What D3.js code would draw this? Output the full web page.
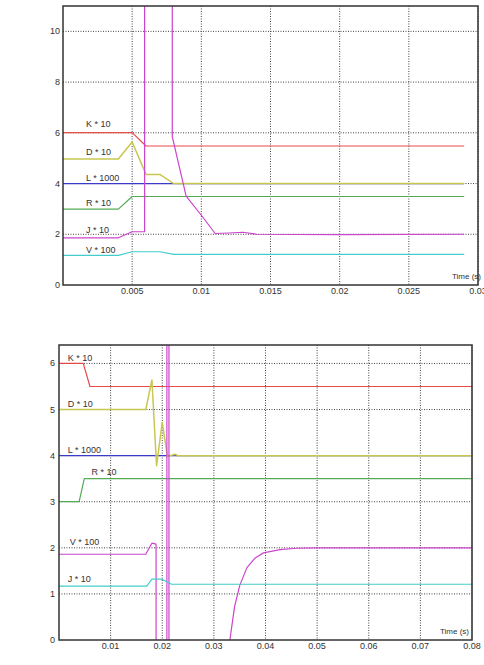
<!DOCTYPE html>
<html><head><meta charset="utf-8">
<script src="https://cdn.jsdelivr.net/npm/d3@7"></script>
<style>
html,body{margin:0;padding:0;background:#fff;}
svg{display:block;font-family:"Liberation Sans",Arial,sans-serif;}
</style></head>
<body><svg id="c" width="484" height="665"></svg>
<script>
// ---- Top chart data (time s, value) ----
const topXTicks = [0.005, 0.01, 0.015, 0.02, 0.025, 0.03];
const topXTickLabels = ["0.005", "0.01", "0.015", "0.02", "0.025", "0.03"];
const topYTicks = [0, 2, 4, 6, 8, 10];
const topK = [[0,6.01],[0.005,6.01],[0.006,5.48],[0.029,5.48]];
const topL = [[0,4],[0.029,4]];
const topD = [[0,4.97],[0.004,4.97],[0.005,5.64],[0.006,4.36],[0.007,4.36],[0.008,4.0],[0.029,4.0]];
const topR = [[0,2.99],[0.004,2.99],[0.005,3.49],[0.029,3.49]];
const topJ = [[0,1.86],[0.004,1.86],[0.005,2.1],[0.0059,2.1],[0.0059,40],[0.0079,40],[0.0079,5.85],[0.0089,3.5],[0.01,2.75],[0.011,2.03],[0.012,2.05],[0.013,2.08],[0.014,2.0],[0.02,1.99],[0.029,2.0]];
const topV = [[0,1.17],[0.004,1.17],[0.005,1.31],[0.007,1.31],[0.008,1.21],[0.029,1.21]];
const topLabels = ["K * 10","D * 10","L * 1000","R * 10","J * 10","V * 100"];
const topLabelT = [0.00167,0.00167,0.00167,0.00167,0.00167,0.00167];
const topLabelV = [6.34,5.24,4.21,3.23,2.17,1.38];

// ---- Bottom chart data ----
const botXTicks = [0.01,0.02,0.03,0.04,0.05,0.06,0.07,0.08];
const botXTickLabels = ["0.01","0.02","0.03","0.04","0.05","0.06","0.07","0.08"];
const botYTicks = [0,1,2,3,4,5,6];
const botK = [[0,6],[0.0047,6],[0.006,5.5],[0.08,5.5]];
const botL = [[0,4],[0.08,4]];
const botD = [[0,5],[0.0168,5],[0.018,5.64],[0.0189,3.78],[0.020,4.72],[0.021,3.98],[0.0225,4.03],[0.023,4.0],[0.08,4.0]];
const botR = [[0,3],[0.0039,3],[0.0049,3.5],[0.08,3.5]];
const botM = [[0,1.86],[0.0168,1.86],[0.018,2.1],[0.0188,2.08],[0.0189,-30],[0.0209,-30],[0.0209,30],[0.0213,30],[0.0213,-30],[0.0326,-30],[0.0331,0],[0.034,0.72],[0.035,1.18],[0.0364,1.57],[0.038,1.78],[0.0396,1.89],[0.0428,1.96],[0.046,1.99],[0.05,2.0],[0.08,2.0]];
const botC = [[0,1.17],[0.017,1.17],[0.018,1.32],[0.0199,1.32],[0.0218,1.21],[0.08,1.21]];
const botLabels = ["K * 10","D * 10","L * 1000","R * 10","V * 100","J * 10"];
const botLabelT = [0.0017,0.0017,0.0017,0.0063,0.0021,0.0017];
const botLabelV = [6.12,5.13,4.13,3.65,2.12,1.33];

const colors = {K:"#e84a4a", L:"#3a3acc", D:"#c8c850", R:"#55aa55", M:"#cc44cc", C:"#44cccc"};

const svg = d3.select("#c");

function chart(opt){
  const g = svg.append("g");
  const x = d3.scaleLinear().domain(opt.xDomain).range([opt.left, opt.right]);
  const y = d3.scaleLinear().domain(opt.yDomain).range([opt.bottom, opt.top]);
  const id = "clip" + opt.name;
  svg.append("clipPath").attr("id", id).append("rect")
    .attr("x", opt.left).attr("y", opt.top)
    .attr("width", opt.right - opt.left).attr("height", opt.bottom - opt.top);
  // grid
  g.selectAll(".gx").data(opt.xTicks).join("line")
    .attr("x1", d => x(d)).attr("x2", d => x(d))
    .attr("y1", opt.top).attr("y2", opt.bottom)
    .attr("stroke", "#444").attr("stroke-width", 1).attr("stroke-dasharray", "1,1.5");
  g.selectAll(".gy").data(opt.yTicks.filter(v => v > opt.yDomain[0])).join("line")
    .attr("x1", opt.left).attr("x2", opt.right)
    .attr("y1", d => y(d)).attr("y2", d => y(d))
    .attr("stroke", "#444").attr("stroke-width", 1).attr("stroke-dasharray", "1,1.5");
  // tick labels
  g.selectAll(".xl").data(opt.xTicks).join("text")
    .attr("x", d => x(d)).attr("y", opt.bottom + 9)
    .attr("text-anchor", "middle").attr("font-size", 9).attr("fill", "#333")
    .text((d, i) => opt.xTickLabels[i]);
  g.selectAll(".yl").data(opt.yTicks).join("text")
    .attr("x", opt.left - opt.yLabelGap).attr("y", d => y(d) + 3)
    .attr("text-anchor", "end").attr("font-size", 9).attr("fill", "#333")
    .text(d => d);
  // lines
  const line = d3.line().x(d => x(d[0])).y(d => y(d[1]));
  const lg = g.append("g").attr("clip-path", `url(#${id})`);
  opt.series.forEach(s => {
    lg.append("path").datum(s.data).attr("d", line)
      .attr("fill", "none").attr("stroke", s.color).attr("stroke-width", s.w || 1.2)
      .attr("stroke-linejoin", "round");
  });
  // labels
  g.selectAll(".sl").data(opt.labels).join("text")
    .attr("x", (d, i) => x(opt.labelT[i])).attr("y", (d, i) => y(opt.labelV[i]) + 3)
    .attr("font-size", 9).attr("fill", "#333").text(d => d);
  g.append("text").attr("x", opt.timeX).attr("y", opt.bottom - 6)
    .attr("font-size", 8).attr("fill", "#333").text("Time (s)");
  // frame
  g.append("rect").attr("x", opt.left).attr("y", opt.top)
    .attr("width", opt.right - opt.left).attr("height", opt.bottom - opt.top)
    .attr("fill", "none").attr("stroke", "#333").attr("stroke-width", 1.5);
}

chart({name:"top", xDomain:[0,0.03], yDomain:[0,11], left:63, right:478, top:6, bottom:285,
  xTicks:topXTicks, xTickLabels:topXTickLabels, yTicks:topYTicks, yLabelGap:3, timeX:452,
  series:[{data:topK,color:colors.K},{data:topL,color:colors.L},{data:topD,color:colors.D,w:1.5},
          {data:topR,color:colors.R},{data:topJ,color:colors.M},{data:topV,color:colors.C}],
  labels:topLabels, labelT:topLabelT, labelV:topLabelV});

chart({name:"bot", xDomain:[0,0.08], yDomain:[0,6.4], left:59, right:472, top:345, bottom:640,
  xTicks:botXTicks, xTickLabels:botXTickLabels, yTicks:botYTicks, yLabelGap:4, timeX:440,
  series:[{data:botK,color:colors.K},{data:botL,color:colors.L},{data:botD,color:colors.D,w:1.5},
          {data:botR,color:colors.R},{data:botM,color:colors.M},{data:botC,color:colors.C}],
  labels:botLabels, labelT:botLabelT, labelV:botLabelV});
</script>
</body></html>
